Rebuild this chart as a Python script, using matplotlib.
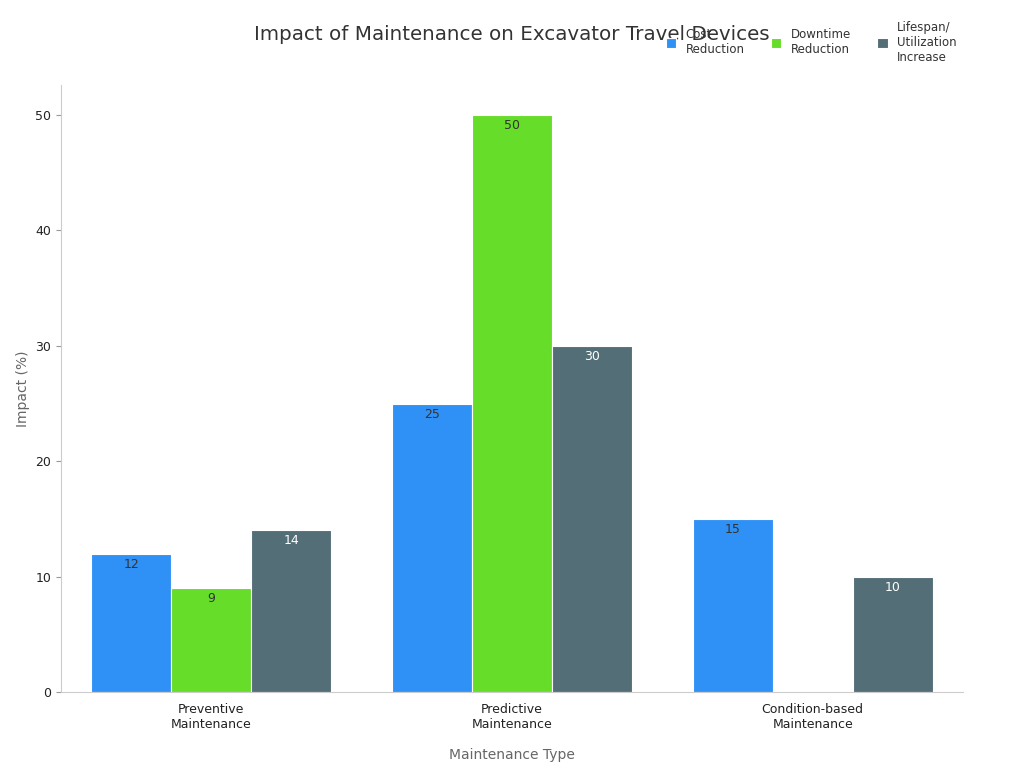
import matplotlib
matplotlib.use("Agg")
import matplotlib.pyplot as plt
import numpy as np

categories = ["Preventive\nMaintenance", "Predictive\nMaintenance", "Condition-based\nMaintenance"]
series_names = ["Cost\nReduction", "Downtime\nReduction", "Lifespan/\nUtilization\nIncrease"]
cost = [12, 25, 15]
downtime = [9, 50, 0]
lifespan = [14, 30, 10]
colors = ["#2f91f5", "#66dd29", "#546e77"]
label_colors = ["#333333", "#333333", "#ffffff"]

fig = plt.figure(figsize=(10.24, 7.68), dpi=100)
ax = fig.add_axes([61/1024, 1-692/768, 902/1024, (692-85)/768])
x = np.arange(len(categories))
w = 0.266
for i, (vals, name) in enumerate(zip([cost, downtime, lifespan], series_names)):
    pos = x + (i - 1) * w
    ax.bar(pos, vals, w, color=colors[i], edgecolor="white", linewidth=0.8, label=name)
    for p, v in zip(pos, vals):
        if v > 0:
            ax.text(p, v - 0.35, str(v), ha="center", va="top", fontsize=9, color=label_colors[i])

ax.set_xlim(-0.5, 2.5)
ax.set_ylim(0, 52.6)
ax.set_xticks(x)
ax.set_xticklabels(categories, fontsize=9, color="#222222")
ax.set_yticks([0, 10, 20, 30, 40, 50])
ax.tick_params(axis="y", labelsize=9, colors="#222222", color="#999999")
ax.tick_params(axis="x", length=0, pad=8)
for s in ["top", "right"]:
    ax.spines[s].set_visible(False)
for s in ["left", "bottom"]:
    ax.spines[s].set_color("#cccccc")
ax.set_xlabel("Maintenance Type", fontsize=10, color="#666666", labelpad=12)
ax.set_ylabel("Impact (%)", fontsize=10, color="#666666")
fig.text(0.5, 1-35/768, "Impact of Maintenance on Excavator Travel Devices", ha="center", va="center",
         fontsize=14.3, color="#333333")
fig.legend(loc="upper left", bbox_to_anchor=(655/1024, 1-10/768), ncol=3, frameon=False,
           fontsize=8.5, handlelength=0.9, handleheight=0.9, columnspacing=2.2,
           labelcolor="#333333")
fig.savefig("out.png", dpi=100)
